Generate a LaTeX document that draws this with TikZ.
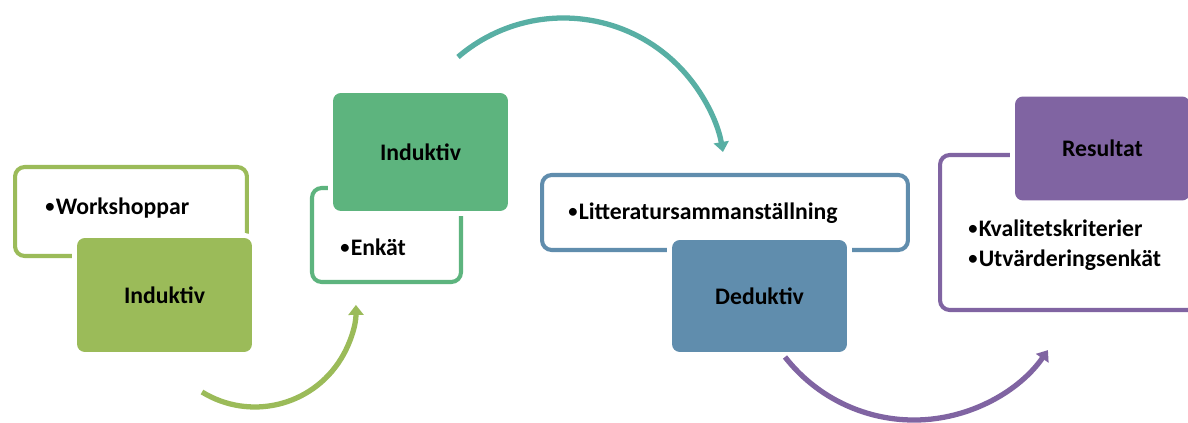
\documentclass[tikz,border=0pt]{standalone}
\usepackage{fontspec}
\setmainfont{Carlito}
\usetikzlibrary{arrows.meta}
\definecolor{cA}{HTML}{9BBB59}
\definecolor{cB}{HTML}{5DB47E}
\definecolor{cT}{HTML}{58AFA4}
\definecolor{cC}{HTML}{608DAD}
\definecolor{cD}{HTML}{8064A2}
\newcommand{\bul}{\raisebox{0.08em}{\scalebox{0.78}{•}}\hspace{0.05em}}
\begin{document}
\begin{tikzpicture}[x=0.02cm,y=0.02cm,
  frame/.style={draw, line width=2.3pt, rounded corners=5.5pt, inner sep=0pt, outer sep=0pt},
  card/.style={rounded corners=4.5pt, inner sep=0pt, outer sep=0pt,
    preaction={draw=white, line width=5.7pt},
    font=\bfseries\fontsize{13.5}{16}\selectfont},
  lbl/.style={font=\bfseries\fontsize{13.5}{17}\selectfont, inner sep=0pt, anchor=west, align=left},
  flow/.style={line width=3pt, -{Triangle[width=8.5pt,length=5.7pt]}}]
\clip (0,0) rectangle (1188,423);
\fill[white] (0,0) rectangle (1188,423);
% group 1
\node[frame, draw=cA, minimum width=4.64cm, minimum height=1.78cm] (o1) at (131,211.5) {};
\node[card, fill=cA, minimum width=3.5cm, minimum height=2.28cm] (b1) at (164.5,128) {Induktiv};
\node[lbl] (t1) at (45,215) {\bul Workshoppar};
% group 2
\node[frame, draw=cB, minimum width=2.98cm, minimum height=1.88cm] (o2) at (386.5,188) {};
\node[card, fill=cB, minimum width=3.5cm, minimum height=2.36cm] (b2) at (420.5,271) {Induktiv};
\node[lbl] (t2) at (340,176) {\bul Enkät};
% group 3
\node[frame, draw=cC, minimum width=7.32cm, minimum height=1.5cm] (o3) at (725,210.5) {};
\node[card, fill=cC, minimum width=3.5cm, minimum height=2.24cm] (b3) at (759.5,127) {Deduktiv};
\node[lbl] (t3) at (568,210) {\bul Litteratursammanställning};
% group 4
\node[frame, draw=cD, minimum width=5.2cm, minimum height=3.1cm] (o4) at (1070,190.5) {};
\node[card, fill=cD, minimum width=3.5cm, minimum height=2.08cm] (b4) at (1102.5,274.5) {Resultat};
\node[lbl] (t4) at (968,178) {\bul Kvalitetskriterier\\\bul Utvärderingsenkät};
% arrows
\coordinate (s1) at (202,31);
\coordinate (s2) at (458,366);
\coordinate (s3) at (785,66);
\draw[flow, cA] (s1) arc[start angle=238.4, end angle=360.6, radius=101];
\draw[flow, cT] (s2) arc[start angle=130.6, end angle=9.95, radius=162];
\draw[flow, cD] (s3) arc[start angle=217.9, end angle=325.1, radius=163.4];
\end{tikzpicture}
\end{document}
